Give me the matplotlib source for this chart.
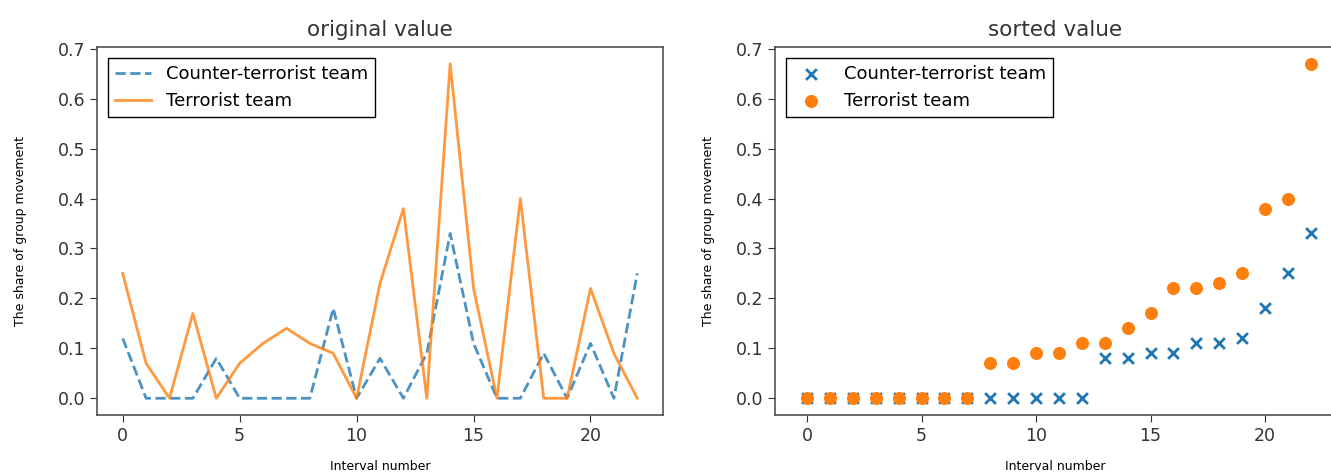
import matplotlib
matplotlib.use('Agg')
import matplotlib.pyplot as plt

# share of group movement per interval
intervals = list(range(23))
ct_share = [0.12, 0, 0, 0, 0.08, 0, 0, 0, 0, 0.18, 0, 0.08, 0, 0.09, 0.33,
            0.11, 0, 0, 0.09, 0, 0.11, 0, 0.25]
t_share = [0.25, 0.07, 0, 0.17, 0, 0.07, 0.11, 0.14, 0.11, 0.09, 0, 0.23, 0.38,
           0, 0.67, 0.22, 0, 0.40, 0, 0, 0.22, 0.09, 0]
ct_label = 'Counter-terrorist team'
t_label = 'Terrorist team'
y_ticks = [0.0, 0.1, 0.2, 0.3, 0.4, 0.5, 0.6, 0.7]

blue = '#1f77b4'
orange = '#ff7f0e'
grey = '#333333'


def style_axes(ax, title, ypad):
    ax.set_title(title, fontsize=15.5, color=grey, pad=8)
    ax.set_xlabel('Interval number', fontsize=9, labelpad=11)
    ax.set_ylabel('The share of group movement', fontsize=9, labelpad=ypad)
    ax.set_yticks(y_ticks)
    ax.set_yticklabels([f'{v:.1f}' for v in y_ticks])
    ax.set_xticks([0, 5, 10, 15, 20])
    ax.tick_params(labelsize=12.5, labelcolor=grey, color=grey, length=5)
    for sp in ax.spines.values():
        sp.set_color('#444444')
        sp.set_linewidth(1.1)


fig = plt.figure(figsize=(13.31, 4.72), dpi=100)
ax1 = fig.add_axes([97 / 1331, 57 / 472, 566 / 1331, 368 / 472])
# the right panel runs slightly past the figure edge, as in the original
ax2 = fig.add_axes([775 / 1331, 57 / 472, 561 / 1331, 368 / 472])

ax1.plot(intervals, ct_share, '--', color=blue, lw=2, alpha=0.8, label=ct_label)
ax1.plot(intervals, t_share, '-', color=orange, lw=2, alpha=0.8, label=t_label)
style_axes(ax1, 'original value', 22)
leg1 = ax1.legend(loc='upper left', fontsize=13, fancybox=False,
                  edgecolor='black', framealpha=1, borderaxespad=0.6)
leg1.get_frame().set_linewidth(1.0)

ax2.scatter(intervals, sorted(ct_share), marker='x', color=blue, s=60,
            linewidths=2, label=ct_label)
ax2.scatter(intervals, sorted(t_share), marker='o', color=orange, s=70,
            label=t_label)
style_axes(ax2, 'sorted value', 15)
ax2.set_xlim(-1.4, 23.1)
leg2 = ax2.legend(loc='upper left', fontsize=13, fancybox=False,
                  edgecolor='black', framealpha=1, scatterpoints=1,
                  borderaxespad=0.6)
leg2.get_frame().set_linewidth(1.0)

fig.savefig('out.png', dpi=100)
